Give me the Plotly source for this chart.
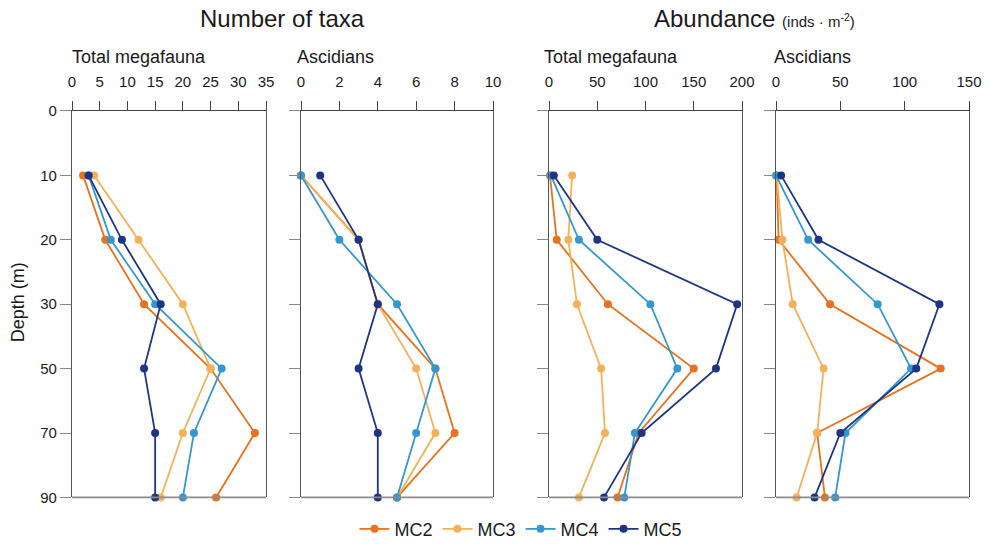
import plotly.graph_objects as go

# ---------------- data ----------------
depth_cats = ['0', '10', '20', '30', '50', '70', '90']
depths = ['10', '20', '30', '50', '70', '90']
series = ['MC2', 'MC3', 'MC4', 'MC5']

taxa_total = {
    'MC2': [2, 6, 13, 25, 33, 26],
    'MC3': [4, 12, 20, 25, 20, 16],
    'MC4': [3, 7, 15, 27, 22, 20],
    'MC5': [3, 9, 16, 13, 15, 15],
}
taxa_asc = {
    'MC2': [0, 3, 4, 7, 8, 5],
    'MC3': [0, 3, 4, 6, 7, 5],
    'MC4': [0, 2, 5, 7, 6, 5],
    'MC5': [1, 3, 4, 3, 4, 4],
}
abund_total = {
    'MC2': [1, 8, 61, 150, 93, 71],
    'MC3': [24, 20, 29, 54, 58, 31],
    'MC4': [2, 31, 105, 133, 89, 78],
    'MC5': [5, 50, 195, 173, 96, 57],
}
abund_asc = {
    'MC2': [0.5, 2, 42, 128, 32, 38],
    'MC3': [0.5, 5, 13, 37, 32, 16],
    'MC4': [0, 25, 79, 105, 54, 46],
    'MC5': [4, 33, 127, 109, 50, 30],
}

panel_data = [taxa_total, taxa_asc, abund_total, abund_asc]
x_ranges = [[0, 35], [0, 10], [0, 200], [0, 150]]
x_dticks = [5, 2, 50, 50]
subtitles = ['Total megafauna', 'Ascidians', 'Total megafauna', 'Ascidians']

colors = {'MC2': '#E8721E', 'MC3': '#F5B158', 'MC4': '#3597CF', 'MC5': '#1E3586'}

# ---------------- layout geometry ----------------
W, H = 989, 548
panel_px = [(72, 266), (301, 493), (549, 742), (776, 969)]
top_px, bot_px = 112, 502
ydom = [1 - bot_px / H, 1 - top_px / H]

FONT = 'Liberation Sans, Arial, Helvetica, sans-serif'
TXT = '#1a1a1a'

fig = go.Figure()

for i, data in enumerate(panel_data):
    n = '' if i == 0 else str(i + 1)
    for s in series:
        fig.add_trace(go.Scatter(
            x=data[s], y=depths, mode='lines+markers', name=s,
            xaxis='x' + n, yaxis='y' + n,
            line=dict(color=colors[s], width=1.8),
            marker=dict(color=colors[s], size=8),
            showlegend=(i == 0), cliponaxis=False,
        ))

layout = dict(
    width=W, height=H,
    margin=dict(l=0, r=0, t=0, b=0),
    paper_bgcolor='white', plot_bgcolor='white',
    font=dict(family=FONT, color=TXT, size=15),
    showlegend=True,
    legend=dict(orientation='h', x=521 / W, xanchor='center',
                y=1 - 534 / H, yanchor='middle',
                font=dict(size=18, family=FONT, color=TXT),
                itemwidth=30, bgcolor='rgba(0,0,0,0)'),
)

shapes = []
annotations = []
for i in range(4):
    n = '' if i == 0 else str(i + 1)
    x0, x1 = panel_px[i]
    layout['xaxis' + n] = dict(
        domain=[x0 / W, x1 / W], anchor='y' + n, side='top',
        range=x_ranges[i], dtick=x_dticks[i], tick0=0,
        showgrid=False, zeroline=False,
        showline=True, linecolor='#444444', linewidth=1.2, mirror=False,
        ticks='outside', ticklen=9, tickwidth=1.2, tickcolor='#444444',
        tickfont=dict(size=15, family=FONT, color=TXT),
        ticklabelstandoff=8, automargin=False, fixedrange=True,
    )
    layout['yaxis' + n] = dict(
        domain=ydom, anchor='x' + n, type='category',
        categoryorder='array', categoryarray=depth_cats,
        range=[6, 0],
        showgrid=False, zeroline=False,
        showline=True, linecolor='#555555', linewidth=1.2, mirror=True,
        ticks='outside', ticklen=11, tickwidth=1.2, tickcolor='#888888',
        showticklabels=(i == 0),
        tickfont=dict(size=15, family=FONT, color=TXT),
        automargin=False, fixedrange=True,
    )
    shapes.append(dict(type='line', xref='x' + n + ' domain', yref='y' + n + ' domain',
                       x0=0, x1=1, y0=0, y1=0,
                       line=dict(color='#8c8c8c', width=1.6), layer='above'))

# subtitles
sub_x = [70, 295, 542, 772]
for i in range(4):
    annotations.append(dict(text=subtitles[i], x=sub_x[i] / W, y=1 - 58 / H,
                            xref='paper', yref='paper', xanchor='left', yanchor='middle',
                            showarrow=False, font=dict(size=18, family=FONT, color=TXT)))

annotations.append(dict(text='Number of taxa', x=282.5 / W, y=1 - 19 / H,
                        xref='paper', yref='paper', xanchor='center', yanchor='middle',
                        showarrow=False, font=dict(size=24, family=FONT, color=TXT)))
annotations.append(dict(text="Abundance <span style='font-size:15px'>(inds · m<sup>-2</sup>)</span>",
                        x=652 / W, y=1 - 19 / H,
                        xref='paper', yref='paper', xanchor='left', yanchor='middle',
                        showarrow=False, font=dict(size=24, family=FONT, color=TXT)))
annotations.append(dict(text='Depth (m)', x=18 / W, y=1 - 305 / H, textangle=-90,
                        xref='paper', yref='paper', xanchor='center', yanchor='middle',
                        showarrow=False, font=dict(size=18, family=FONT, color=TXT)))

layout['shapes'] = shapes
layout['annotations'] = annotations
fig.update_layout(**layout)

fig.write_html('out.html')
